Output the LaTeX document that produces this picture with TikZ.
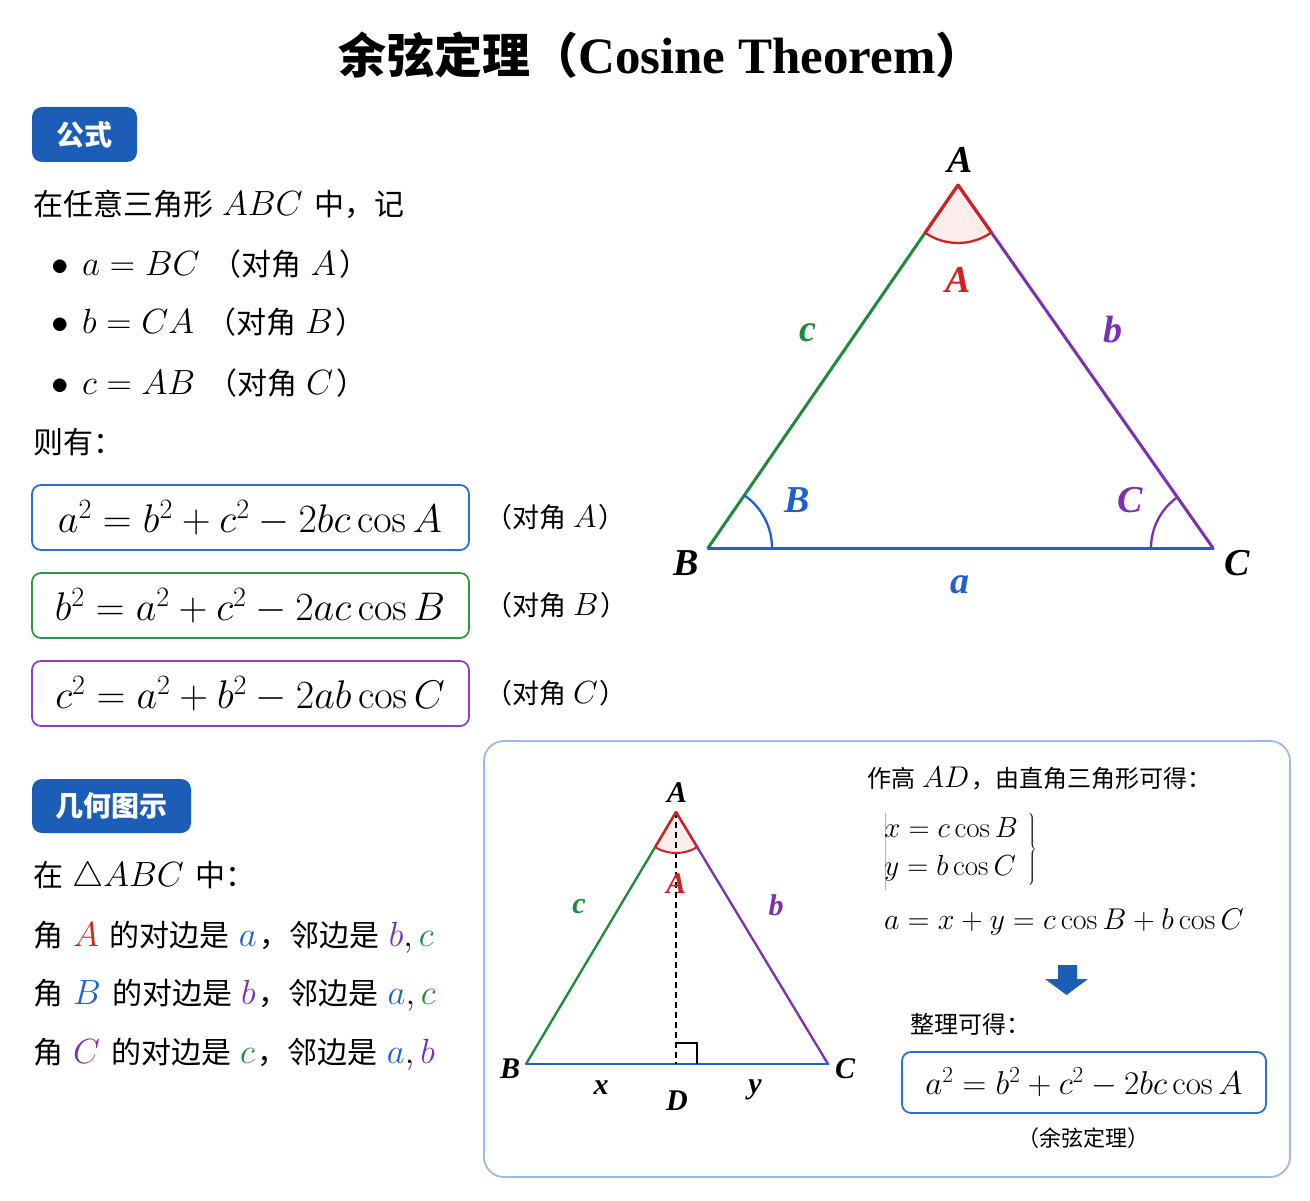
\RequirePackage{fix-cm}
\documentclass[tikz,border=0pt]{standalone}
\usepackage[no-math]{fontspec}
\setmainfont{Noto Sans CJK SC}
\newfontfamily\tms{Liberation Serif}
\usetikzlibrary{calc}
\definecolor{cblue}{HTML}{1F5FCF}
\definecolor{cgreen}{HTML}{1E8A3C}
\definecolor{cpurple}{HTML}{7B2FB5}
\definecolor{cred}{HTML}{D42020}
\definecolor{badge}{HTML}{1C5DB8}
\definecolor{panel}{HTML}{9DB8E8}
\definecolor{bxblue}{HTML}{2A6FD8}
\definecolor{bxgreen}{HTML}{2E9A44}
\definecolor{bxpurple}{HTML}{8E3FC8}
\newcommand\Msz{35}
\newcommand\M[1]{{\fontsize{\Msz}{\Msz}\selectfont$#1$}}
\tikzset{
  txt/.style={inner sep=0pt, anchor=base west, font=\fontsize{30}{34}\selectfont},
  badgebox/.style={fill=badge, rounded corners=10pt},
  badgetxt/.style={text=white, font=\fontsize{28}{30}\selectfont\bfseries, inner sep=0pt},
  fbox/.style={line width=1.8pt, rounded corners=9pt, fill=white},
  tlab/.style={inner sep=0pt, font=\fontsize{38}{40}\selectfont\tms\bfseries\itshape},
  slab/.style={inner sep=0pt, font=\fontsize{30}{32}\selectfont\tms\bfseries\itshape},
  side/.style={line width=3pt, line cap=round},
  sside/.style={line width=2.3pt, line cap=round},
}
\begin{document}
\begin{tikzpicture}[x=1pt,y=-1pt]
\useasboundingbox (0,0) rectangle (1310,1201);
\fill[white] (0,0) rectangle (1310,1201);

% Title
\node[inner sep=0pt, anchor=base] (title) at (661,74)
  {\fontsize{48}{52}\selectfont\bfseries 余弦定理（{\fontsize{51}{52}\selectfont\tms\bfseries Cosine Theorem}）};

% ===== Section 1 =====
\fill[badgebox] (32,107) rectangle (137,162);
\node[badgetxt] (b1) at (84.5,134.5) {公式};

\node[txt] (l1) at (33,216) {在任意三角形\hspace{9pt}\M{ABC}\hspace{12pt}中，记};
\node[txt] (bu1) at (51,276) {\M{\bullet}};
\node[txt] (r1) at (82,276) {\M{a = BC}\hspace{12pt}（对角\hspace{9pt}\M{A}\hspace{3pt}）};
\node[txt] (bu2) at (51,334) {\M{\bullet}};
\node[txt] (r2) at (82,334) {\M{b = CA}\hspace{12pt}（对角\hspace{9pt}\M{B}\hspace{3pt}）};
\node[txt] (bu3) at (51,394) {\M{\bullet}};
\node[txt] (r3) at (82,394) {\M{c = AB}\hspace{12pt}（对角\hspace{9pt}\M{C}\hspace{3pt}）};
\node[txt] (l5) at (33,453) {则有：};

\draw[fbox, draw=bxblue] (32,485) rectangle (469,550);
\node[inner sep=0pt] (f1) at (250,518) {\fontsize{40}{40}\selectfont$a^2 = b^2 + c^2 - 2bc\cos A$};
\draw[fbox, draw=bxgreen] (32,573) rectangle (469,638);
\node[inner sep=0pt] (f2) at (250,606) {\fontsize{40}{40}\selectfont$b^2 = a^2 + c^2 - 2ac\cos B$};
\draw[fbox, draw=bxpurple] (32,661) rectangle (469,726);
\node[inner sep=0pt] (f3) at (250,694) {\fontsize{40}{40}\selectfont$c^2 = a^2 + b^2 - 2ab\cos C$};

\begin{scope}[txt/.append style={font=\fontsize{27}{30}\selectfont}]
\renewcommand\Msz{32}
\node[txt] (o1) at (485,527) {（对角\hspace{7pt}\M{A}\hspace{2pt}）};
\node[txt] (o2) at (485,615) {（对角\hspace{7pt}\M{B}\hspace{2pt}）};
\node[txt] (o3) at (485,703) {（对角\hspace{7pt}\M{C}\hspace{2pt}）};
\end{scope}

% ===== Big triangle =====
\coordinate (A) at (958,185);
\coordinate (B) at (708,548);
\coordinate (C) at (1213,548);
\fill[cred!8] (A) -- ++(235.44:58pt) arc[start angle=235.44, end angle=305.09, radius=58pt] -- cycle;
\draw[side, cgreen] (B) -- (A);
\draw[side, cpurple] (A) -- (C);
\draw[side, cblue] (B) -- (C);
\draw[side, cred] (A) -- ++(235.44:58pt);
\draw[side, cred] (A) -- ++(305.09:58pt);
\draw[line width=2.3pt, cred] (A) ++(235.44:58pt) arc[start angle=235.44, end angle=305.09, radius=58pt];
\draw[line width=2.3pt, cblue] (B) ++(0:64pt) arc[start angle=0, end angle=55.44, radius=64pt];
\draw[line width=2.3pt, cpurple] (C) ++(180:62pt) arc[start angle=180, end angle=125.09, radius=62pt];

\node[tlab] (LA) at (960,160) {A};
\node[tlab] (LB) at (686,563) {B};
\node[tlab] (LC) at (1237,563) {C};
\node[tlab, text=cblue] (La) at (960,585) {a};
\node[tlab, text=cgreen] (Lc) at (808,333) {c};
\node[tlab, text=cpurple] (Lb) at (1113,330) {b};
\node[tlab, text=cred] (LAng) at (958,280) {A};
\node[tlab, text=cblue] (LBng) at (797,500) {B};
\node[tlab, text=cpurple] (LCng) at (1130,500) {C};

% ===== Section 2 =====
\fill[badgebox] (32,779) rectangle (191,833);
\node[badgetxt] (b2) at (111.5,806) {几何图示};

\node[txt] (m1) at (33,886) {在\hspace{9pt}\M{\triangle ABC}\hspace{12pt}中：};
\node[txt] (m2) at (33,946) {角\hspace{10pt}\M{\color{cred}A}\hspace{11pt}的对边是\hspace{9pt}\M{\color{cblue}a}\hspace{3pt}，邻边是\hspace{9pt}\M{\color{cpurple}b{\color{black},\,}\color{cgreen}c}};
\node[txt] (m3) at (33,1004) {角\hspace{10pt}\M{\color{cblue}B}\hspace{11pt}的对边是\hspace{9pt}\M{\color{cpurple}b}\hspace{3pt}，邻边是\hspace{9pt}\M{\color{cblue}a{\color{black},\,}\color{cgreen}c}};
\node[txt] (m4) at (33,1063) {角\hspace{10pt}\M{\color{cpurple}C}\hspace{11pt}的对边是\hspace{9pt}\M{\color{cgreen}c}\hspace{3pt}，邻边是\hspace{9pt}\M{\color{cblue}a{\color{black},\,}\color{cpurple}b}};

% ===== Panel =====
\draw[panel, line width=1.8pt, rounded corners=20pt] (484,741) rectangle (1290,1177);

\coordinate (sA) at (676,812);
\coordinate (sB) at (526,1064);
\coordinate (sC) at (828,1064);
\coordinate (sD) at (676,1064);
\fill[cred!8] (sA) -- ++(239.24:41pt) arc[start angle=239.24, end angle=301.1, radius=41pt] -- cycle;
\draw[sside, cgreen] (sB) -- (sA);
\draw[sside, cpurple] (sA) -- (sC);
\draw[sside, cblue] (sB) -- (sC);
\draw[line width=1.6pt, dash pattern=on 6pt off 4pt] (sA) -- (sD);
\draw[sside, cred] (sA) -- ++(239.24:41pt);
\draw[sside, cred] (sA) -- ++(301.1:41pt);
\draw[line width=2pt, cred] (sA) ++(239.24:41pt) arc[start angle=239.24, end angle=301.1, radius=41pt];
\draw[line width=1.5pt] (676,1043) -- (697,1043) -- (697,1064);

\node[slab] (sLA) at (677,793) {A};
\node[slab] (sLB) at (510,1069) {B};
\node[slab] (sLC) at (845,1069) {C};
\node[slab] (sLD) at (677,1101) {D};
\node[slab] (sLx) at (601,1088) {x};
\node[slab] (sLy) at (755,1090) {y};
\node[slab, text=cgreen] (sLc) at (579,907) {c};
\node[slab, text=cpurple] (sLb) at (776,905) {b};
\node[slab, text=cred] (sLAng) at (676,884) {A};

\begin{scope}[txt/.append style={font=\fontsize{24}{28}\selectfont}]
\renewcommand\Msz{30}
\node[txt] (p1) at (867,787) {作高\hspace{7pt}\M{AD}\hspace{2pt}，由直角三角形可得：};
\draw[gray!60, line width=0.8pt] (885,813) -- (885,890);
\node[inner sep=0pt, anchor=west] (sys) at (883,849)
  {\fontsize{29}{38}\selectfont$\left.\arraycolsep=0pt\begin{array}{l} x = c\cos B\\ y = b\cos C\end{array}\hspace{10pt}\right\}$};
\node[txt] (p2) at (884,929) {\M{a = x + y = c\cos B + b\cos C}};
\fill[badge] (1058,965) -- (1077,965) -- (1077,979) -- (1088,979) -- (1066.5,995) -- (1045,979) -- (1058,979) -- cycle;
\node[txt] (p3) at (910,1033) {整理可得：};
\draw[fbox, draw=bxblue] (902,1052) rectangle (1266,1113);
\node[inner sep=0pt] (f4) at (1084,1082) {\fontsize{33}{33}\selectfont$a^2 = b^2 + c^2 - 2bc\cos A$};
\node[inner sep=0pt, anchor=base] (p4) at (1083,1146) {\fontsize{22}{26}\selectfont（余弦定理）};
\end{scope}
\end{tikzpicture}
\end{document}
